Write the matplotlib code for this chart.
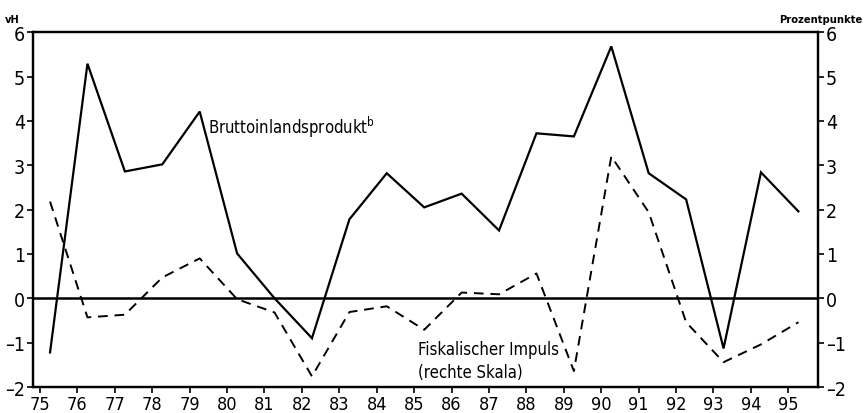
import matplotlib
matplotlib.use("Agg")
import matplotlib.pyplot as plt

plt.rcParams['font.family'] = ['DejaVu Sans']
plt.rcParams['font.stretch'] = 'condensed'

years = list(range(75, 96))
tick_labels = [str(y) for y in years]
bip = [-1.22, 5.29, 2.86, 3.02, 4.21, 1.01, 0.0, -0.9, 1.78, 2.82, 2.05,
       2.36, 1.53, 3.72, 3.65, 5.68, 2.82, 2.23, -1.13, 2.84, 1.96]
impuls = [2.18, -0.43, -0.37, 0.47, 0.9, -0.02, -0.32, -1.76, -0.31, -0.18, -0.71,
          0.13, 0.09, 0.56, -1.64, 3.2, 1.94, -0.54, -1.44, -1.04, -0.54]

xoff = 0.27
xs = [y + xoff for y in years]

fig = plt.figure(figsize=(8.64, 4.14), dpi=100)
ax = fig.add_axes([0.038, 0.0628, 0.909, 0.857])
ax2 = ax.twinx()

ax.plot(xs, bip, color='black', lw=1.6, solid_joinstyle='miter')
ax2.plot(xs, impuls, color='black', lw=1.4, ls=(0, (5, 3.5)))
ax.axhline(0, color='black', lw=1.8)

labels_y = [str(v).replace('-', '\u2013') for v in range(-2, 7)]
for a in (ax, ax2):
    a.set_ylim(-2, 6)
    a.set_xlim(74.81, 95.8)
    a.set_yticks(range(-2, 7))
    a.set_yticklabels(labels_y)
    a.tick_params(axis='y', direction='out', length=4, width=1.2, labelsize=14, pad=1.5)
    for s in a.spines.values():
        s.set_linewidth(1.6)
ax.set_xticks(years)
ax.set_xticklabels(tick_labels)
ax.tick_params(axis='x', direction='out', length=4, width=1.2, labelsize=13, pad=2)

ax.text(79.5, 3.87, 'Bruttoinlandsprodukt$^{\\mathrm{b}}$', fontsize=12, ha='left', va='center')
ax.text(85.1, -1.15, 'Fiskalischer Impuls', fontsize=12, ha='left', va='center')
ax.text(85.1, -1.67, '(rechte Skala)', fontsize=12, ha='left', va='center')

fig.text(0.006, 0.94, 'vH', fontsize=8, fontweight='bold', ha='left', va='bottom')
fig.text(0.998, 0.94, 'Prozentpunkte', fontsize=8, fontweight='bold', ha='right', va='bottom')

fig.savefig('out.png', dpi=100)
